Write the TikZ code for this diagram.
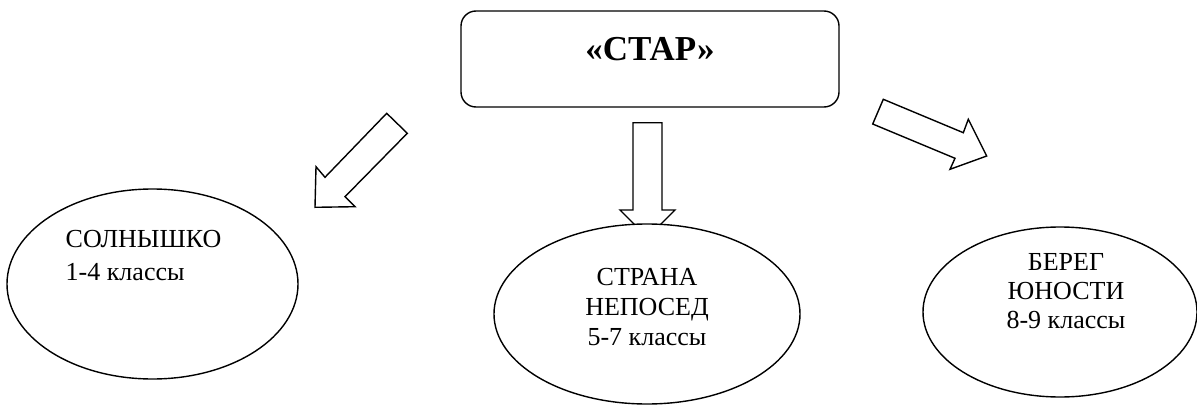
\documentclass[tikz,border=0pt]{standalone}
\usepackage{fontspec}
\setmainfont{Liberation Serif}
\usetikzlibrary{shapes.geometric}
\begin{document}
\begin{tikzpicture}[x=1pt,y=-1pt,
  line width=1.4pt,
  blockarrow/.style={draw=black,fill=white,line join=miter},
  oval/.style={ellipse,draw=black,fill=white,inner sep=0pt},
  label/.style={inner sep=0pt,font=\fontsize{26}{30}\selectfont},
  title/.style={inner sep=0pt,font=\fontsize{35}{38}\selectfont\bfseries}]
\useasboundingbox[fill=white] (0,0) rectangle (1197,412);
% top box
\node[draw=black,rounded corners=15pt,minimum width=378pt,minimum height=96pt,inner sep=0pt] (star) at (650,59) {};
\node[title,anchor=base] (startxt) at (650,61) {«СТАР»};
% block arrows
\coordinate (la1) at (386.7,113.3);
\coordinate (la2) at (407.3,133.3);
\draw[blockarrow] (la1) -- (la2) -- (345,196.7) -- (355,206.7) -- (315,207.3) -- (316,166.7) -- (325,177.3) -- cycle;
\coordinate (ma1) at (633,122.7);
\draw[blockarrow] (ma1) -- (662,122.7) -- (662,210) -- (675,210) -- (647.5,237.5) -- (620,210) -- (633,210) -- cycle;
\coordinate (ra1) at (883.3,99.3);
\draw[blockarrow] (ra1) -- (963.3,132.7) -- (968.3,119.3) -- (986.7,156) -- (950,169.3) -- (955,158.3) -- (872.7,124) -- cycle;
% ellipses
\node[oval,minimum width=291pt,minimum height=190pt] (sun) at (152.5,284) {};
\node[oval,minimum width=306pt,minimum height=180pt] (land) at (647,314) {};
\node[oval,minimum width=274pt,minimum height=170pt] (shore) at (1060,312) {};
% texts
\node[label,anchor=north west,align=left] (suntxt) at (65,230) {СОЛНЫШКО\\[3pt]1-4 классы};
\node[label,anchor=north,align=center] (landtxt) at (647,268) {СТРАНА\\НЕПОСЕД\\5-7 классы};
\node[label,anchor=north,align=center,font=\fontsize{26}{29}\selectfont] (shoretxt) at (1066,253) {БЕРЕГ\\ЮНОСТИ\\8-9 классы};
\end{tikzpicture}
\end{document}
